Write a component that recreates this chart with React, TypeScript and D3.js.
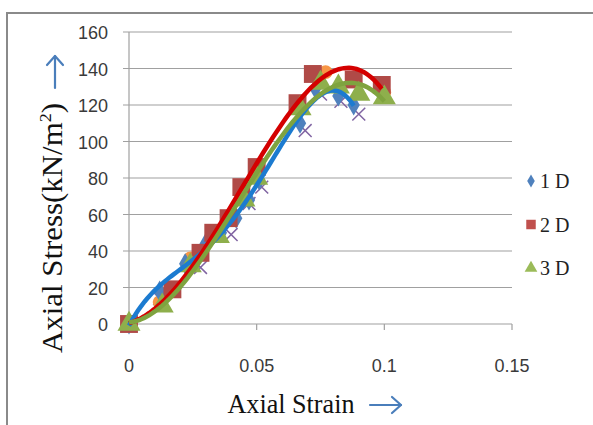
import React from 'react';
import * as d3 from 'd3';

// readings
const strain1D = [0, 0.012, 0.022, 0.03, 0.036, 0.042, 0.047, 0.051, 0.067, 0.073, 0.082, 0.088];
const stress1D = [0, 18, 33, 44, 50, 58, 68, 79, 110, 129, 125, 120];

const strain2D = [0, 0.017, 0.028, 0.033, 0.039, 0.044, 0.05, 0.066, 0.072, 0.088, 0.099];
const stress2D = [0, 19, 39, 50, 58, 75, 86, 121, 137, 134, 131];

const strain3D = [0, 0.013, 0.024, 0.035, 0.045, 0.05, 0.067, 0.075, 0.082, 0.09, 0.1];
const stress3D = [0, 10, 32, 48, 68, 80, 118, 132, 130, 126, 124];

const strainExtraA = [0.012, 0.024, 0.077, 0.1];
const stressExtraA = [12, 36, 138, 127];

const strainExtraB = [0.012, 0.028, 0.04, 0.047, 0.052, 0.069, 0.075, 0.083, 0.09];
const stressExtraB = [14, 31, 49, 66, 75, 106, 126, 122, 115];

const xTicks = [0, 0.05, 0.1, 0.15];
const xTickLabels = ['0', '0.05', '0.1', '0.15'];
const yTicks = [0, 20, 40, 60, 80, 100, 120, 140, 160];
const legendLabels = ['1 D', '2 D', '3 D'];

const W = 593;
const H = 425;

const x = d3.scaleLinear().domain([0, 0.15]).range([129, 512]);
const y = d3.scaleLinear().domain([0, 160]).range([324, 32]);

// least squares polynomial, like an Excel trendline
function polyFit(xs: number[], ys: number[], deg: number) {
  const n = deg + 1;
  const A: number[][] = [];
  for (let i = 0; i < n; i++) {
    A.push(new Array(n + 1).fill(0));
  }
  xs.forEach((xv, k) => {
    const t = xv * 10;
    for (let i = 0; i < n; i++) {
      for (let j = 0; j < n; j++) A[i][j] += Math.pow(t, i + j);
      A[i][n] += ys[k] * Math.pow(t, i);
    }
  });
  for (let c = 0; c < n; c++) {
    let p = c;
    for (let r = c + 1; r < n; r++) if (Math.abs(A[r][c]) > Math.abs(A[p][c])) p = r;
    [A[c], A[p]] = [A[p], A[c]];
    for (let r = 0; r < n; r++) {
      if (r === c) continue;
      const f = A[r][c] / A[c][c];
      for (let k = c; k <= n; k++) A[r][k] -= f * A[c][k];
    }
  }
  const coef = A.map((row, i) => row[n] / row[i]);
  return (xv: number) => coef.reduce((s, c, i) => s + c * Math.pow(xv * 10, i), 0);
}

const trend = (xs: number[], ys: number[], deg: number) => {
  const f = polyFit(xs, ys, deg);
  const lo = d3.min(xs)!;
  const hi = d3.max(xs)!;
  const pts = d3.range(0, 101).map(i => lo + ((hi - lo) * i) / 100);
  return d3.line<number>().x(d => x(d)).y(d => y(f(d)))(pts) || '';
};

const sym = (type: d3.SymbolType, size: number) => d3.symbol().type(type).size(size)() || '';

const App = () => {
  const diamond = sym(d3.symbolDiamond, 130);
  const square = sym(d3.symbolSquare, 320);
  const triangle = sym(d3.symbolTriangle, 230);
  const circle = sym(d3.symbolCircle, 150);
  const cross = sym(d3.symbolTimes, 110);

  const legendMarks = [
    { d: sym(d3.symbolDiamond, 50), fill: '#4F81BD' },
    { d: sym(d3.symbolSquare, 90), fill: '#C0504D' },
    { d: sym(d3.symbolTriangle, 70), fill: '#9BBB59' },
  ];

  const blue = '#4A7EBB';

  return (
    <svg width={W} height={H} style={{ position: 'absolute', left: 0, top: 0 }}>
      <rect x={0} y={0} width={W} height={H} fill="#fff" />
      <rect x={7} y={13} width={W + 10} height={H + 10} fill="none" stroke="#8a8a8a" strokeWidth={2} />

      {yTicks.map(t => (
        <line key={'g' + t} x1={123} x2={512} y1={y(t)} y2={y(t)} stroke="#a0a0a0" strokeWidth={1.2} />
      ))}
      <line x1={x(0)} x2={x(0)} y1={y(160)} y2={y(0) + 6} stroke="#a0a0a0" strokeWidth={1.2} />
      {xTicks.map(t => (
        <line key={'xt' + t} x1={x(t)} x2={x(t)} y1={y(0)} y2={y(0) + 6} stroke="#a0a0a0" strokeWidth={1.2} />
      ))}

      {yTicks.map(t => (
        <text key={'yl' + t} x={108} y={y(t) + 7} textAnchor="end" fontFamily="Liberation Sans" fontSize={18} fill="#3a3a3a">
          {t}
        </text>
      ))}
      {xTicks.map((t, i) => (
        <text key={'xl' + t} x={x(t)} y={372} textAnchor="middle" fontFamily="Liberation Sans" fontSize={18} fill="#3a3a3a">
          {xTickLabels[i]}
        </text>
      ))}

      {strainExtraB.map((s, i) => (
        <path key={'b' + i} d={cross} transform={`translate(${x(s)},${y(stressExtraB[i])})`} stroke="#8064A2" strokeWidth={1.5} fill="none" />
      ))}
      {strainExtraA.map((s, i) => (
        <path key={'a' + i} d={circle} transform={`translate(${x(s)},${y(stressExtraA[i])})`} fill="#F79646" />
      ))}
      {strain1D.map((s, i) => (
        <path key={'d1' + i} d={diamond} transform={`translate(${x(s)},${y(stress1D[i])})`} fill="#4F81BD" />
      ))}
      {strain2D.map((s, i) => (
        <path key={'d2' + i} d={square} transform={`translate(${x(s)},${y(stress2D[i])})`} fill="#B04A47" />
      ))}
      {strain3D.map((s, i) => (
        <path key={'d3' + i} d={triangle} transform={`translate(${x(s)},${y(stress3D[i])})`} fill="#8EAF4C" />
      ))}

      <path d={trend(strain1D, stress1D, 4)} fill="none" stroke="#1C7BD0" strokeWidth={4.5} />
      <path d={trend(strain2D, stress2D, 4)} fill="none" stroke="#D40000" strokeWidth={4.5} />
      <path d={trend(strain3D, stress3D, 3)} fill="none" stroke="#7FA33F" strokeWidth={4.5} />

      {legendLabels.map((l, i) => (
        <g key={l}>
          <path d={legendMarks[i].d} transform={`translate(531,${181 + i * 43.5})`} fill={legendMarks[i].fill} />
          <text x={540} y={188 + i * 43.5} fontFamily="Liberation Serif" fontSize={20} fill="#222">
            {l}
          </text>
        </g>
      ))}

      <text transform="translate(62,228) rotate(-90)" textAnchor="middle" fontFamily="Liberation Serif" fontSize={29} fill="#111" textLength={250} lengthAdjust="spacingAndGlyphs">
        Axial Stress(kN/m<tspan dy={-11} fontSize={17}>2</tspan><tspan dy={11}>)</tspan>
      </text>
      <text x={291} y={413} textAnchor="middle" fontFamily="Liberation Serif" fontSize={28} fill="#111" textLength={127} lengthAdjust="spacingAndGlyphs">
        Axial Strain
      </text>

      <g stroke={blue} strokeWidth={2.2} fill="none" strokeLinecap="round" strokeLinejoin="round">
        <line x1={55} y1={88} x2={55} y2={56} />
        <polyline points="47,65 55,56 63,65" />
        <line x1={370} y1={405} x2={401} y2={405} />
        <polyline points="392,397 401,405 392,413" />
      </g>
    </svg>
  );
};

export default App;
